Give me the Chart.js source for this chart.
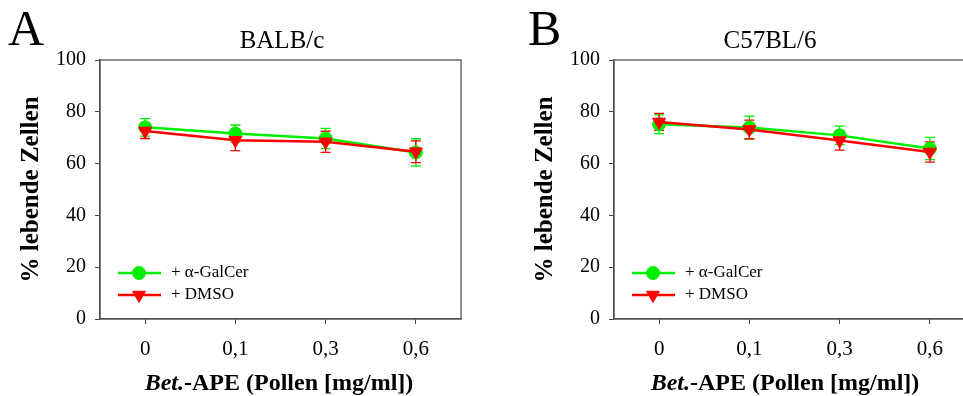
<!DOCTYPE html>
<html>
<head>
<meta charset="utf-8">
<script src="https://cdn.jsdelivr.net/npm/chart.js@4.4.1/dist/chart.umd.min.js"></script>
<style>
  body { margin: 0; width: 963px; height: 396px; overflow: hidden; background: #fff; position: relative; }
  canvas { position: absolute; top: 0; }
</style>
</head>
<body>
<canvas id="chartA" width="480" height="396" style="left:0px"></canvas>
<canvas id="chartB" width="480" height="396" style="left:514px"></canvas>
<script>
// values
const doses = ['0', '0,1', '0,3', '0,6'];
const yMin = 0, yMax = 100, yStep = 20;

const balbGalCer = [74.0, 71.6, 69.7, 64.3];
const balbGalCerErr = [3.4, 3.3, 3.9, 5.3];
const balbDmso = [72.6, 69.0, 68.4, 64.6];
const balbDmsoErr = [2.9, 4.0, 4.1, 4.2];

const c57GalCer = [75.2, 73.9, 70.9, 65.8];
const c57GalCerErr = [3.6, 4.4, 3.6, 4.3];
const c57Dmso = [76.1, 73.2, 68.9, 64.5];
const c57DmsoErr = [3.3, 3.6, 3.7, 3.9];

const seriesNames = ['+ \u03b1-GalCer', '+ DMSO'];
const GREEN = '#00ee00', RED = '#ff0000';
const SERIF = "'Liberation Serif', 'Times New Roman', serif";

// error bars, frame, titles and legend
const panelPlugin = {
  id: 'panel',
  beforeDatasetsDraw(chart) {
    const ctx = chart.ctx, ys = chart.scales.y;
    chart.data.datasets.forEach((ds, i) => {
      const meta = chart.getDatasetMeta(i);
      ctx.save();
      ctx.strokeStyle = ds.borderColor;
      ctx.lineWidth = 1.3;
      meta.data.forEach((pt, j) => {
        const v = ds.data[j], e = ds.err[j];
        const t = ys.getPixelForValue(v + e), b = ys.getPixelForValue(v - e);
        ctx.beginPath();
        ctx.moveTo(pt.x, t); ctx.lineTo(pt.x, b);
        ctx.moveTo(pt.x - 5, t); ctx.lineTo(pt.x + 5, t);
        ctx.moveTo(pt.x - 5, b); ctx.lineTo(pt.x + 5, b);
        ctx.stroke();
      });
      ctx.restore();
    });
  },
  afterDraw(chart, args, o) {
    const ctx = chart.ctx, a = chart.chartArea;
    ctx.save();
    // box round the plot
    ctx.strokeStyle = '#555';
    ctx.lineWidth = 1.3;
    ctx.strokeRect(a.left, a.top, a.right - a.left, a.bottom - a.top);

    ctx.fillStyle = '#000';
    ctx.textBaseline = 'alphabetic';
    ctx.textAlign = 'left';
    ctx.font = '50px ' + SERIF;
    ctx.fillText(o.letter, o.letterX, 45);

    ctx.textAlign = 'center';
    ctx.font = '25px ' + SERIF;
    ctx.fillText(o.title, o.titleX, 48);

    // x title with italic "Bet."
    const p1 = 'Bet.', p2 = '-APE (Pollen [mg/ml])';
    ctx.font = 'italic bold 24px ' + SERIF;
    const w1 = ctx.measureText(p1).width;
    ctx.font = 'bold 24px ' + SERIF;
    const w2 = ctx.measureText(p2).width;
    const x0 = o.xTitleX - (w1 + w2) / 2;
    ctx.textAlign = 'left';
    ctx.font = 'italic bold 24px ' + SERIF;
    ctx.fillText(p1, x0, 390);
    ctx.font = 'bold 24px ' + SERIF;
    ctx.fillText(p2, x0 + w1, 390);

    // legend inside the plot, bottom left
    chart.data.datasets.forEach((ds, i) => {
      const y = 273 + i * 22, lx = a.left + 18;
      ctx.strokeStyle = ds.borderColor;
      ctx.lineWidth = 2.5;
      ctx.beginPath(); ctx.moveTo(lx, y); ctx.lineTo(lx + 43, y); ctx.stroke();
      ctx.fillStyle = ds.borderColor;
      ctx.lineWidth = 1;
      Chart.helpers.drawPoint(ctx, {
        pointStyle: ds.pointStyle, radius: ds.pointRadius, rotation: ds.pointRotation || 0,
        borderWidth: 1
      }, lx + 21, y);
      ctx.fillStyle = '#000';
      ctx.font = '17px ' + SERIF;
      ctx.textAlign = 'left';
      ctx.textBaseline = 'middle';
      ctx.fillText(ds.label, lx + 53, y);
    });
    ctx.restore();
  }
};

function makeChart(id, green, greenErr, red, redErr, panel) {
  return new Chart(document.getElementById(id), {
    type: 'line',
    data: {
      labels: doses,
      datasets: [
        {
          label: seriesNames[0], data: green, err: greenErr, order: 2,
          borderColor: GREEN, backgroundColor: GREEN, borderWidth: 2.5,
          pointStyle: 'circle', pointRadius: 6.5, pointBorderWidth: 1, tension: 0
        },
        {
          label: seriesNames[1], data: red, err: redErr, order: 1,
          borderColor: RED, backgroundColor: RED, borderWidth: 2.5,
          pointStyle: 'triangle', pointRotation: 180, pointRadius: 7.5, pointBorderWidth: 1, tension: 0
        }
      ]
    },
    options: {
      responsive: false,
      animation: false,
      layout: { padding: { top: 60, right: 19, left: 0, bottom: 0 } },
      plugins: {
        legend: { display: false },
        tooltip: { enabled: false },
        panel: panel
      },
      scales: {
        x: {
          offset: true,
          grid: { drawOnChartArea: false, drawTicks: true, tickLength: 5, color: '#444' },
          border: { color: '#444', width: 1.3 },
          ticks: { color: '#000', font: { family: SERIF, size: 21 }, padding: 13 },
          afterFit(s) { s.height = 77; }
        },
        y: {
          min: yMin, max: yMax,
          grid: { drawOnChartArea: false, drawTicks: true, tickLength: 5, color: '#444' },
          border: { color: '#444', width: 1.3 },
          ticks: { stepSize: yStep, color: '#000', font: { family: SERIF, size: 20 }, padding: 9 },
          title: {
            display: true, text: '% lebende Zellen', color: '#000',
            font: { family: SERIF, size: 25, weight: 'bold' }, padding: { top: 17, bottom: 0 }
          },
          afterFit(s) { s.width = 100; }
        }
      }
    },
    plugins: [panelPlugin]
  });
}

makeChart('chartA', balbGalCer, balbGalCerErr, balbDmso, balbDmsoErr,
  { letter: 'A', letterX: 8, title: 'BALB/c', titleX: 282, xTitleX: 279 });
makeChart('chartB', c57GalCer, c57GalCerErr, c57Dmso, c57DmsoErr,
  { letter: 'B', letterX: 14, title: 'C57BL/6', titleX: 256, xTitleX: 271 });
</script>
</body>
</html>
